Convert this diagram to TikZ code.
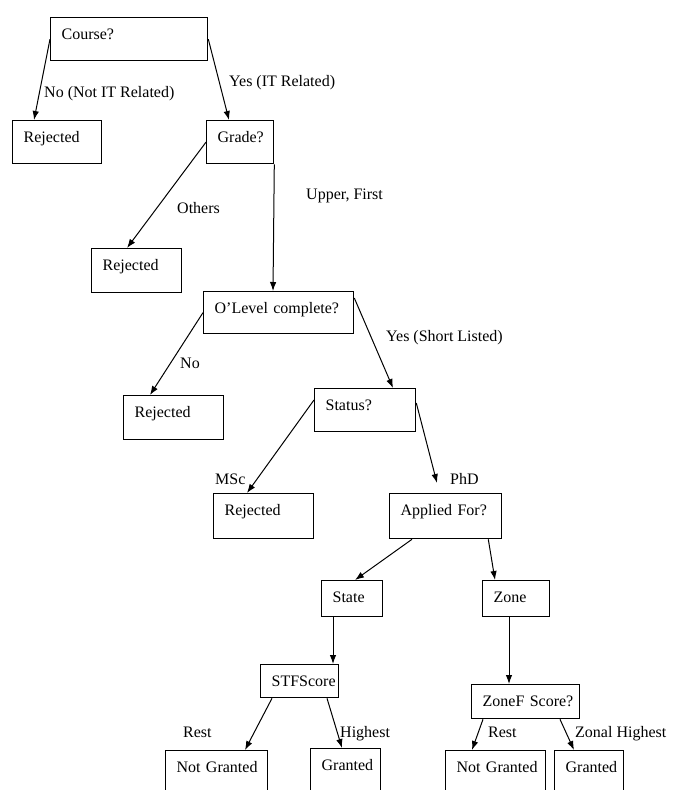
\documentclass[tikz,border=0pt]{standalone}
\usepackage{fontspec}
\setmainfont{Liberation Serif}
\usetikzlibrary{arrows.meta}

\tikzset{
  box/.style 2 args={draw, line width=1.3pt, anchor=north west, align=left,
    inner xsep=11pt, inner ysep=0pt, text height=22pt,
    text width=#1, text depth=#2},
  lbl/.style={anchor=base west, inner sep=0pt},
  arr/.style={line width=1pt, -{Latex[length=9pt,width=6.5pt]}}
}

\begin{document}
\begin{tikzpicture}[x=1pt,y=-1pt,font=\fontsize{16}{19}\selectfont]
\clip (0,0) rectangle (674,790);
% decision boxes
\node[box={135pt}{21pt}] (course) at (50,17) {Course?};
\node[box={67pt}{21pt}] (rejA) at (12,120) {Rejected};
\node[box={45pt}{21pt}] (grade) at (206,120) {Grade?};
\node[box={68pt}{22pt}] (rejB) at (91,248) {Rejected};
\node[box={128pt}{20pt}] (olevel) at (203,291) {O’Level~complete?};
\node[box={78pt}{22pt}] (rejC) at (123,395) {Rejected};
\node[box={79pt}{21pt}] (status) at (314,388) {Status?};
\node[box={78pt}{23pt}] (rejD) at (213,493) {Rejected};
\node[box={90pt}{23pt}] (applied) at (389,493) {Applied~For?};
\node[box={39pt}{14pt}] (state) at (321,580) {State};
\node[box={45pt}{14pt}] (zone) at (482,580) {Zone};
\node[box={56pt}{11pt}] (stf) at (260,664) {STFScore};
\node[box={86pt}{12pt}] (zfs) at (471,684) {ZoneF~Score?};
\node[box={80pt}{22pt}] (ngA) at (165,750) {Not~Granted};
\node[box={48pt}{22pt}] (grA) at (310,748) {Granted};
\node[box={78pt}{22pt}] (ngB) at (445,750) {Not~Granted};
\node[box={47pt}{22pt}] (grB) at (554,750) {Granted};
\coordinate (phdtip) at (437,483);
% branch labels
\node[lbl] (lNoIT) at (44,97) {No (Not IT Related)};
\node[lbl] (lYesIT) at (229,86) {Yes (IT Related)};
\node[lbl] (lOthers) at (177,213) {Others};
\node[lbl] (lUpper) at (306,199) {Upper, First};
\node[lbl] (lNo) at (180,368) {No};
\node[lbl] (lShort) at (386,341) {Yes (Short Listed)};
\node[lbl] (lMSc) at (215,484) {MSc};
\node[lbl] (lPhD) at (450,484) {PhD};
\node[lbl] (lRestA) at (183,737) {Rest};
\node[lbl] (lHigh) at (340,737) {Highest};
\node[lbl] (lRestB) at (488,737) {Rest};
\node[lbl] (lZonal) at (575,737) {Zonal Highest};
% connectors
\draw[arr] (course.west) -- ([xshift=22pt]rejA.north west);
\draw[arr] (course.east) -- ([xshift=23pt]grade.north west);
\draw[arr] (grade.west) -- ([xshift=36pt]rejB.north west);
\draw[arr] (grade.south east) -- ([xshift=70pt]olevel.north west);
\draw[arr] (olevel.west) -- ([xshift=27pt]rejC.north west);
\draw[arr] ([yshift=-7pt]olevel.north east) -- ([xshift=79pt]status.north west);
\draw[arr] ([yshift=-12pt]status.north west) -- ([xshift=34pt]rejD.north west);
\draw[arr] ([yshift=-15pt]status.north east) -- (phdtip);
\draw[arr] ([xshift=23pt]applied.south west) -- ([xshift=34pt]state.north west);
\draw[arr] ([xshift=-14pt]applied.south east) -- ([xshift=13pt]zone.north west);
\draw[arr] ([xshift=12pt]state.south west) -- ([xshift=73pt]stf.north west);
\draw[arr] ([xshift=27pt]zone.south west) -- ([xshift=38pt]zfs.north west);
\draw[arr] ([xshift=12pt]stf.south west) -- ([xshift=80pt]ngA.north west);
\draw[arr] ([xshift=67pt]stf.south west) -- ([xshift=32pt]grA.north west);
\draw[arr] ([xshift=12pt]zfs.south west) -- ([xshift=27pt]ngB.north west);
\draw[arr] ([xshift=89pt]zfs.south west) -- ([xshift=20pt]grB.north west);
\end{tikzpicture}
\end{document}
